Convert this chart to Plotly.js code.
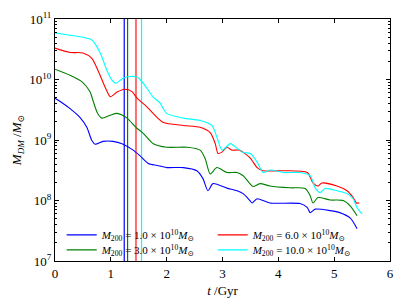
<!DOCTYPE html>
<html>
<head>
<meta charset="utf-8">
<script src="https://cdn.plot.ly/plotly-3.0.1.min.js"></script>
<style>html,body{margin:0;padding:0;background:#fff;}#chart{width:407px;height:305px;}</style>
</head>
<body>
<div id="chart"></div>
<script>
// Time (Gyr) and dark-matter mass (M_sun) for each halo
const tBlue = [0, 0.1, 0.27, 0.45, 0.57, 0.66, 0.72, 0.86, 1.04, 1.2, 1.4, 1.52, 1.67, 1.83, 2.0, 2.3, 2.54, 2.65, 2.74, 2.83, 3.08, 3.26, 3.37, 3.49, 3.53, 3.62, 3.85, 4.39, 4.52, 4.57, 4.66, 4.93, 5.1, 5.29, 5.41];
const mBlue = [4.9e9, 4.3e9, 3.3e9, 2.35e9, 1.62e9, 9.8e8, 8.5e8, 9.5e8, 9.5e8, 8.7e8, 6.8e8, 5.5e8, 4.1e8, 3.8e8, 3.5e8, 3.5e8, 3.1e8, 2.3e8, 1.45e8, 1.9e8, 1.6e8, 1.45e8, 1.3e8, 1.0e8, 9.1e7, 1.07e8, 9.1e7, 8.9e7, 7.6e7, 6.3e7, 7.2e7, 6.8e7, 6.3e7, 5.1e7, 3.4e7];

const tGreen = [0, 0.27, 0.5, 0.63, 0.68, 0.76, 0.84, 0.99, 1.11, 1.29, 1.45, 1.58, 1.76, 2.0, 2.37, 2.6, 2.69, 2.78, 2.9, 3.08, 3.26, 3.37, 3.49, 3.55, 3.67, 3.85, 4.21, 4.48, 4.57, 4.62, 4.71, 4.93, 5.16, 5.29, 5.41];
const mGreen = [1.48e10, 1.17e10, 8.9e9, 6.2e9, 4.5e9, 2.8e9, 2.3e9, 2.57e9, 2.75e9, 2.3e9, 1.62e9, 1.29e9, 8.7e8, 7.6e8, 7.6e8, 6.8e8, 4.9e8, 2.75e8, 3.5e8, 2.9e8, 2.9e8, 2.57e8, 1.9e8, 1.7e8, 1.9e8, 1.74e8, 1.62e8, 1.58e8, 1.2e8, 9.1e7, 1.12e8, 1.02e8, 1.0e8, 8.1e7, 5.6e7];

const tRed = [0, 0.27, 0.5, 0.66, 0.77, 0.9, 0.99, 1.11, 1.25, 1.38, 1.47, 1.65, 1.83, 1.94, 2.3, 2.6, 2.78, 2.87, 2.92, 2.99, 3.08, 3.17, 3.3, 3.49, 3.62, 3.73, 4.09, 4.52, 4.62, 4.71, 4.78, 5.05, 5.23, 5.34, 5.40, 5.45];
const mRed = [3.3e10, 2.8e10, 2.75e10, 2.24e10, 1.41e10, 7.4e9, 5.2e9, 6.2e9, 6.9e9, 6.3e9, 4.9e9, 3.5e9, 2.35e9, 1.95e9, 1.74e9, 1.62e9, 1.32e9, 8.7e8, 6.0e8, 6.3e8, 7.6e8, 6.8e8, 6.8e8, 5.1e8, 3.5e8, 3.1e8, 3.1e8, 2.9e8, 1.95e8, 1.74e8, 1.95e8, 1.74e8, 1.45e8, 1.12e8, 9.1e7, 9.1e7];

const tCyan = [0, 0.27, 0.5, 0.66, 0.81, 0.93, 1.02, 1.09, 1.22, 1.34, 1.47, 1.58, 1.76, 1.88, 2.0, 2.3, 2.6, 2.81, 2.92, 2.99, 3.14, 3.2, 3.37, 3.5, 3.62, 3.73, 3.85, 4.09, 4.39, 4.57, 4.66, 4.75, 4.84, 5.05, 5.23, 5.34, 5.41, 5.5];
const mCyan = [5.9e10, 5.4e10, 5.0e10, 4.5e10, 2.75e10, 1.41e10, 9.8e9, 8.7e9, 1.05e10, 1.12e10, 1.1e10, 8.7e9, 5.1e9, 4.1e9, 2.75e9, 2.3e9, 2.1e9, 1.74e9, 9.8e8, 6.8e8, 8.7e8, 8.1e8, 6.2e8, 6.0e8, 4.3e8, 2.9e8, 3.2e8, 2.9e8, 2.9e8, 2.57e8, 1.62e8, 1.35e8, 1.58e8, 1.45e8, 1.3e8, 1.07e8, 7.6e7, 6.0e7];

// Vertical marker times (Gyr), same order as series: blue, green, red, cyan
const vlineT = [1.24, 1.30, 1.45, 1.55];
const yRange = [1e7, 1e11];

const seriesNames = [
  '<i>M</i><sub>200</sub> = 1.0 × 10<sup>10</sup><i>M</i><sub>⊙</sub>',
  '<i>M</i><sub>200</sub> = 6.0 × 10<sup>10</sup><i>M</i><sub>⊙</sub>',
  '<i>M</i><sub>200</sub> = 3.0 × 10<sup>10</sup><i>M</i><sub>⊙</sub>',
  '<i>M</i><sub>200</sub> = 10.0 × 10<sup>10</sup><i>M</i><sub>⊙</sub>'
];
const yTickVals = [1e7, 1e8, 1e9, 1e10, 1e11];
const yTickText = ['10<sup>7</sup>', '10<sup>8</sup>', '10<sup>9</sup>', '10<sup>10</sup>', '10<sup>11</sup>'];

const colBlue = '#0000ff', colGreen = '#008000', colRed = '#ff0000', colCyan = '#00ffff';

function curve(x, y, name, color, leg) {
  return {x: x, y: y, name: name, type: 'scatter', mode: 'lines', legend: leg,
          line: {color: color, width: 1.1, shape: 'spline', smoothing: 0.7}};
}
function vline(t, color, width) {
  return {x: [t, t], y: yRange, type: 'scatter', mode: 'lines', showlegend: false,
          hoverinfo: 'skip', line: {color: color, width: width}};
}

const data = [
  vline(vlineT[0], colBlue, 1.2),
  vline(vlineT[1], colGreen, 1.2),
  vline(vlineT[2], 'rgba(255,60,60,0.75)', 2),
  vline(vlineT[3], colCyan, 1.2),
  curve(tBlue, mBlue, seriesNames[0], colBlue, 'legend'),
  curve(tRed, mRed, seriesNames[1], colRed, 'legend'),
  curve(tGreen, mGreen, seriesNames[2], colGreen, 'legend2'),
  curve(tCyan, mCyan, seriesNames[3], colCyan, 'legend2')
];

const serif = 'Liberation Serif, DejaVu Serif, serif';
function legendRow(yc) {
  return {
    orientation: 'h', x: 0.02, y: yc, xanchor: 'left', yanchor: 'middle',
    entrywidth: 106, entrywidthmode: 'pixels',
    bgcolor: 'rgba(0,0,0,0)', font: {family: serif, size: 11},
    itemwidth: 30
  };
}
const layout = {
  width: 407, height: 305,
  margin: {l: 55, r: 17, t: 19, b: 44},
  paper_bgcolor: '#fff', plot_bgcolor: '#fff',
  font: {family: serif, color: '#000', size: 13},
  showlegend: true,
  legend: legendRow(0.108),
  legend2: legendRow(0.046),
  xaxis: {
    range: [0, 6], dtick: 1, tick0: 0,
    showline: true, linecolor: '#000', linewidth: 1, mirror: 'allticks',
    ticks: 'inside', ticklen: 4, tickcolor: '#000',
    showgrid: false, zeroline: false,
    tickfont: {family: serif, size: 13},
    title: {text: '<i>t</i> /Gyr', font: {family: serif, size: 13}, standoff: 6}
  },
  yaxis: {
    type: 'log', range: [7, 11],
    tickvals: yTickVals, ticktext: yTickText,
    showline: true, linecolor: '#000', linewidth: 1, mirror: 'allticks',
    ticks: 'inside', ticklen: 4, tickcolor: '#000',
    minor: {dtick: 'D1', ticks: 'inside', ticklen: 2, tickcolor: '#000', showgrid: false},
    showgrid: false, zeroline: false,
    tickfont: {family: serif, size: 13},
    title: {text: '<i>M</i><sub><i>DM</i></sub> /<i>M</i><sub>⊙</sub>', font: {family: serif, size: 13}, standoff: 4}
  }
};

Plotly.newPlot('chart', data, layout, {displayModeBar: false, staticPlot: true});
</script>
</body>
</html>
